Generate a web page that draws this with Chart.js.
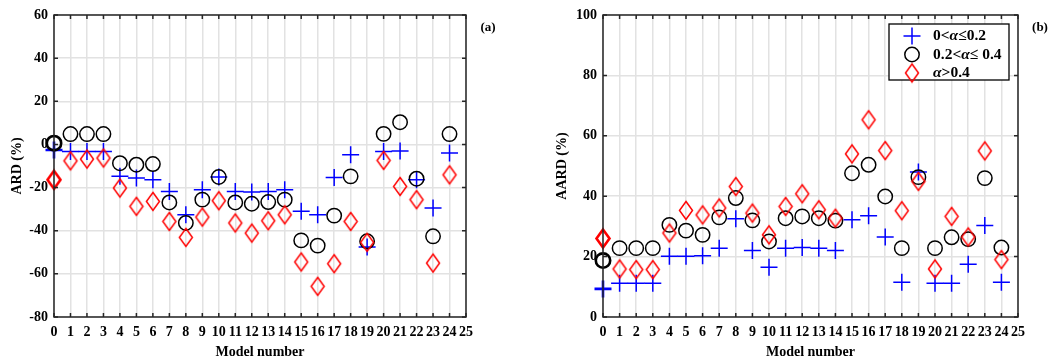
<!DOCTYPE html>
<html>
<head>
<meta charset="utf-8">
<script src="https://cdn.jsdelivr.net/npm/chart.js@4.4.0/dist/chart.umd.min.js"></script>
<style>
    html, body { margin: 0; padding: 0; background: #fff; }
    #wrapA { position: absolute; left: 0; top: 0; width: 530px; height: 361px; }
    #wrapB { position: absolute; left: 530px; top: 0; width: 527px; height: 361px; }
</style>
</head>
<body>
<div id="wrapA"><canvas id="chartA"></canvas></div>
<div id="wrapB"><canvas id="chartB"></canvas></div>
<script>

const models = [0, 1, 2, 3, 4, 5, 6, 7, 8, 9, 10, 11, 12, 13, 14, 15, 16, 17, 18, 19, 20, 21, 22, 23, 24];
const seriesNames = ["0<α≤0.2", "0.2<α≤ 0.4", "α>0.4"];

// (a) ARD (%)
const ardLow  = [-2.6, -3.3, -3.3, -3.3, -14.8, -15.6, -16.4, -21.8, -32.6, -21.0, -15.1, -21.8, -22.1, -21.8, -21.0, -31.0, -32.6, -15.3, -4.8, -47.5, -3.3, -3.0, -16.4, -29.5, -4.0];
const ardMid  = [0.6, 4.8, 4.8, 4.8, -8.7, -9.4, -9.1, -26.9, -36.4, -25.6, -15.1, -26.9, -27.5, -26.7, -25.6, -44.5, -46.9, -33.0, -14.8, -44.9, 4.9, 10.3, -15.9, -42.6, 4.8];
const ardHigh = [-16.4, -7.6, -6.8, -6.3, -20.2, -28.7, -26.4, -35.7, -43.1, -33.7, -26.1, -36.4, -41.1, -35.4, -32.6, -54.5, -65.8, -55.3, -35.7, -45.4, -7.4, -19.5, -25.6, -55.0, -14.1];
const ardTicks = [-80, -60, -40, -20, 0, 20, 40, 60];

// (b) AARD (%)
const aardLow  = [9.3, 11.2, 11.2, 11.2, 20.1, 20.1, 20.3, 22.8, 32.5, 22.0, 16.5, 22.8, 23.0, 22.8, 22.0, 32.2, 33.5, 26.5, 11.5, 48.0, 11.2, 11.2, 17.5, 30.3, 11.5];
const aardMid  = [18.7, 22.8, 22.8, 22.8, 30.5, 28.6, 27.2, 33.0, 39.4, 32.0, 25.0, 32.7, 33.3, 32.7, 31.9, 47.6, 50.4, 39.9, 22.8, 46.3, 22.8, 26.4, 25.8, 46.0, 23.0];
const aardHigh = [26.0, 15.9, 15.7, 15.7, 27.8, 35.3, 33.8, 36.1, 43.2, 34.4, 27.2, 36.6, 40.8, 35.5, 32.7, 54.0, 65.3, 55.1, 35.2, 44.9, 15.9, 33.3, 26.5, 55.0, 19.0];
const aardTicks = [0, 20, 40, 60, 80, 100];

const axisColor = "#262626";
const fontFam = "'Liberation Serif', 'Times New Roman', serif";

// matlab style diamond, a bit taller than wide
function diamond(lw) {
    const c = document.createElement("canvas");
    const w = 13, h = 18;
    c.width = w + 5; c.height = h + 5;
    const g = c.getContext("2d");
    const cx = c.width / 2, cy = c.height / 2;
    g.strokeStyle = "#ff0000";
    g.lineWidth = lw;
    g.beginPath();
    g.moveTo(cx, cy - h / 2);
    g.lineTo(cx + w / 2, cy);
    g.lineTo(cx, cy + h / 2);
    g.lineTo(cx - w / 2, cy);
    g.closePath();
    g.stroke();
    return c;
}
const diamondThin = diamond(1.5);
const diamondThick = diamond(2.6);

function pts(vals) {
    return models.map((m, i) => ({ x: m, y: vals[i] }));
}
function thick(ctx) {
    return ctx.dataIndex === 0 ? 2.6 : 1.5;
}

function makeDatasets(low, mid, high) {
    return [
        {
            label: seriesNames[0], data: pts(low),
            pointStyle: "cross", pointRadius: 8.5, pointBorderColor: "#0000ff",
            pointBackgroundColor: "#0000ff", pointBorderWidth: thick, clip: false, order: 3
        },
        {
            label: seriesNames[1], data: pts(mid),
            pointStyle: "circle", pointRadius: 7.2, pointBorderColor: "#000000",
            pointBackgroundColor: "rgba(0,0,0,0)", pointBorderWidth: thick, clip: false, order: 2
        },
        {
            label: seriesNames[2], data: pts(high),
            pointStyle: ctx => ctx.dataIndex === 0 ? diamondThick : diamondThin,
            pointRadius: 9, pointBorderColor: "#ff0000", clip: false, order: 1
        }
    ];
}

// box round the plot with inward ticks, plus panel letter and legend
const boxPlugin = {
    id: "box",
    afterDraw(chart, args, opts) {
        const ctx = chart.ctx;
        const a = chart.chartArea;
        const xs = chart.scales.x, ys = chart.scales.y;
        ctx.save();
        ctx.strokeStyle = axisColor;
        ctx.lineWidth = 1.5;
        ctx.beginPath();
        for (let m = 0; m <= 25; m++) {
            const px = xs.getPixelForValue(m);
            ctx.moveTo(px, a.bottom); ctx.lineTo(px, a.bottom - 4);
            ctx.moveTo(px, a.top); ctx.lineTo(px, a.top + 4);
        }
        ys.ticks.forEach(t => {
            const py = ys.getPixelForValue(t.value);
            ctx.moveTo(a.left, py); ctx.lineTo(a.left + 4, py);
            ctx.moveTo(a.right, py); ctx.lineTo(a.right - 4, py);
        });
        ctx.stroke();
        ctx.strokeRect(a.left, a.top, a.right - a.left, a.bottom - a.top);

        ctx.fillStyle = "#000";
        ctx.font = "bold 13px " + fontFam;
        ctx.textAlign = "center";
        ctx.textBaseline = "middle";
        ctx.fillText(opts.tag, opts.tagX, 28);

        if (opts.legend) {
            const L = opts.legend;
            ctx.fillStyle = "#fff";
            ctx.fillRect(L.x, L.y, L.w, L.h);
            ctx.strokeStyle = "#000";
            ctx.lineWidth = 1.3;
            ctx.strokeRect(L.x, L.y, L.w, L.h);
            chart.data.datasets.forEach((ds, i) => {
                const cy = L.y + 12 + i * 18.5;
                const mx = L.x + 23;
                ctx.beginPath();
                if (i === 0) {
                    ctx.strokeStyle = "#0000ff"; ctx.lineWidth = 1.5;
                    ctx.moveTo(mx - 8.5, cy); ctx.lineTo(mx + 8.5, cy);
                    ctx.moveTo(mx, cy - 8.5); ctx.lineTo(mx, cy + 8.5);
                    ctx.stroke();
                } else if (i === 1) {
                    ctx.strokeStyle = "#000"; ctx.lineWidth = 1.5;
                    ctx.arc(mx, cy, 7.2, 0, Math.PI * 2);
                    ctx.stroke();
                } else {
                    ctx.drawImage(diamondThin, mx - diamondThin.width / 2, cy - diamondThin.height / 2);
                }
                // label, alpha in italic
                let tx = L.x + 44;
                ctx.fillStyle = "#000";
                ctx.textAlign = "left";
                ds.label.split(/(α)/).forEach(part => {
                    if (!part) return;
                    ctx.font = (part === "α" ? "italic bold 15.5px " : "bold 15.5px ") + fontFam;
                    ctx.fillText(part, tx, cy);
                    tx += ctx.measureText(part).width;
                });
            });
        }
        ctx.restore();
    }
};

function makeChart(elemId, datasets, yTicks, yTitle, yWidth, titlePad, rightPad, tag, tagX, legend) {
    const tickFont = { family: fontFam, size: 14, weight: "bold" };
    return new Chart(document.getElementById(elemId), {
        type: "scatter",
        data: { datasets: datasets },
        options: {
            responsive: true,
            maintainAspectRatio: false,
            animation: false,
            events: [],
            layout: { padding: { top: 15, right: rightPad, left: 0, bottom: 0 } },
            plugins: {
                legend: { display: false },
                tooltip: { enabled: false },
                box: { tag: tag, tagX: tagX, legend: legend }
            },
            scales: {
                x: {
                    type: "linear", min: 0, max: 25,
                    afterBuildTicks: s => { s.ticks = models.concat([25]).map(v => ({ value: v })); },
                    ticks: { autoSkip: false, maxRotation: 0, minRotation: 0, padding: 7, color: "#000", font: tickFont },
                    grid: { color: "#e2e2e2", lineWidth: 1.5, drawTicks: false },
                    border: { display: false },
                    title: { display: true, text: "Model number", color: "#000", font: tickFont, padding: 0 },
                    afterFit: s => { s.height = 44; }
                },
                y: {
                    type: "linear", min: yTicks[0], max: yTicks[yTicks.length - 1],
                    afterBuildTicks: s => { s.ticks = yTicks.map(v => ({ value: v })); },
                    ticks: { padding: 6, color: "#000", font: tickFont },
                    grid: { color: "#e2e2e2", lineWidth: 1.5, drawTicks: false },
                    border: { display: false },
                    title: { display: true, text: yTitle, color: "#000", font: tickFont, padding: { top: titlePad, bottom: 0 } },
                    afterFit: s => { s.width = yWidth; }
                }
            }
        },
        plugins: [boxPlugin]
    });
}

makeChart("chartA", makeDatasets(ardLow, ardMid, ardHigh), ardTicks, "ARD (%)", 54, 9, 64, "(a)", 488, null);
makeChart("chartB", makeDatasets(aardLow, aardMid, aardHigh), aardTicks, "AARD (%)", 73, 24, 39, "(b)", 510,
    { x: 359, y: 24, w: 120, h: 56 });

</script>
</body>
</html>
